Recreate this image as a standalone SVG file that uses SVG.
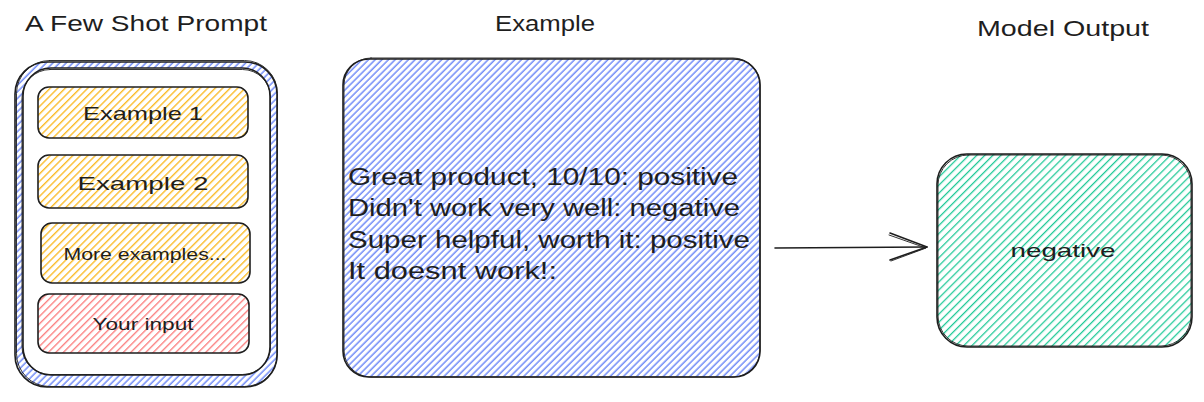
<svg xmlns="http://www.w3.org/2000/svg" width="1204" height="402" viewBox="0 0 1204 402">
  <defs>
    <!-- hachure fills, drawn as diagonal "/" strokes -->
    <pattern id="hatch-blue" width="4.7" height="4.7" patternUnits="userSpaceOnUse" patternTransform="rotate(45)">
      <line x1="2" y1="0" x2="2" y2="4.7" stroke="#4c6ef5" stroke-width="1.2"/>
    </pattern>
    <pattern id="hatch-yellow" width="5.3" height="5.3" patternUnits="userSpaceOnUse" patternTransform="rotate(45)">
      <line x1="2.5" y1="0" x2="2.5" y2="5.3" stroke="#fab005" stroke-width="1.2"/>
    </pattern>
    <pattern id="hatch-red" width="5.3" height="5.3" patternUnits="userSpaceOnUse" patternTransform="rotate(45)">
      <line x1="2.5" y1="0" x2="2.5" y2="5.3" stroke="#fa5252" stroke-width="1"/>
    </pattern>
    <pattern id="hatch-green" width="5.7" height="5.7" patternUnits="userSpaceOnUse" patternTransform="rotate(45)">
      <line x1="2.5" y1="0" x2="2.5" y2="5.7" stroke="#20c997" stroke-width="1.3"/>
    </pattern>
  </defs>
  <style>
    text { font-family: "Liberation Sans", "DejaVu Sans", sans-serif; fill: #1e1e1e; }
    .title { font-size: 22px; text-anchor: middle; }
    .label { font-size: 19px; text-anchor: middle; }
    .small { font-size: 16px; text-anchor: middle; }
    .body { font-size: 23px; }
    .edge { fill: none; stroke: #1e1e1e; stroke-width: 1.6; stroke-linecap: round; stroke-linejoin: round; }
    .edge2 { fill: none; stroke: #1e1e1e; stroke-width: 0.9; stroke-linecap: round; }
  </style>

  <rect width="1204" height="402" fill="#ffffff"/>

  <!-- column headings -->
  <g id="titles">
    <text class="title" x="146" y="31" textLength="242" lengthAdjust="spacingAndGlyphs">A Few Shot Prompt</text>
    <text class="title" x="545" y="31" textLength="100" lengthAdjust="spacingAndGlyphs">Example</text>
    <text class="title" x="1063" y="36" textLength="172" lengthAdjust="spacingAndGlyphs">Model Output</text>
  </g>

  <!-- prompt container -->
  <g id="prompt">
    <rect x="15" y="62" width="262" height="325" rx="32" fill="url(#hatch-blue)"/>
    <rect x="15" y="62" width="262" height="325" rx="32" class="edge"/>
    <rect x="16.5" y="60.5" width="261" height="326" rx="33" class="edge2"/>
    <rect x="23" y="68" width="247" height="307" rx="28" fill="#ffffff"/>
    <rect x="23" y="68" width="247" height="307" rx="28" class="edge"/>
    <rect x="22" y="69.5" width="248.5" height="305" rx="28" class="edge2"/>
  </g>

  <g id="example-1">
    <rect x="38" y="87" width="210" height="51" rx="11" fill="url(#hatch-yellow)"/>
    <rect x="38" y="87" width="210" height="51" rx="11" class="edge"/>
    <text class="label" x="143" y="120" textLength="120" lengthAdjust="spacingAndGlyphs">Example 1</text>
  </g>

  <g id="example-2">
    <rect x="38" y="155" width="210" height="53" rx="11" fill="url(#hatch-yellow)"/>
    <rect x="38" y="155" width="210" height="53" rx="11" class="edge"/>
    <text class="label" x="143" y="190" textLength="131" lengthAdjust="spacingAndGlyphs">Example 2</text>
  </g>

  <g id="more-examples">
    <rect x="41" y="223" width="209" height="60" rx="11" fill="url(#hatch-yellow)"/>
    <rect x="41" y="223" width="209" height="60" rx="11" class="edge"/>
    <text class="small" x="145" y="260" textLength="163" lengthAdjust="spacingAndGlyphs">More examples...</text>
  </g>

  <g id="your-input">
    <rect x="38" y="294" width="211" height="59" rx="11" fill="url(#hatch-red)"/>
    <rect x="38" y="294" width="211" height="59" rx="11" class="edge"/>
    <text class="small" x="143" y="330" textLength="101" lengthAdjust="spacingAndGlyphs">Your input</text>
  </g>

  <!-- example prompt text -->
  <g id="example">
    <rect x="343" y="59" width="417" height="318" rx="26" fill="url(#hatch-blue)"/>
    <rect x="343" y="59" width="417" height="318" rx="26" class="edge"/>
    <rect x="344" y="58" width="416" height="319" rx="27" class="edge2"/>
    <text class="body" x="348" y="185" textLength="390" lengthAdjust="spacingAndGlyphs">Great product, 10/10: positive</text>
    <text class="body" x="348" y="216" textLength="392" lengthAdjust="spacingAndGlyphs">Didn't work very well: negative</text>
    <text class="body" x="348" y="248" textLength="402" lengthAdjust="spacingAndGlyphs">Super helpful, worth it: positive</text>
    <text class="body" x="348" y="279" textLength="209" lengthAdjust="spacingAndGlyphs">It doesnt work!:</text>
  </g>

  <!-- model output -->
  <g id="model-output">
    <rect x="937" y="154" width="255" height="193" rx="30" fill="url(#hatch-green)"/>
    <rect x="937" y="154" width="255" height="193" rx="30" class="edge"/>
    <rect x="938" y="155" width="253" height="191" rx="30" class="edge2"/>
    <text class="label" x="1063" y="257" textLength="105" lengthAdjust="spacingAndGlyphs">negative</text>
  </g>

  <!-- connectors -->
  <g id="connectors">
    <path class="edge" d="M775 248 L927 247"/>
    <path class="edge" d="M890 233 L927 247 L890 260"/>
    <path class="edge2" d="M889 235 L926 248 L891 261"/>
  </g>
</svg>
